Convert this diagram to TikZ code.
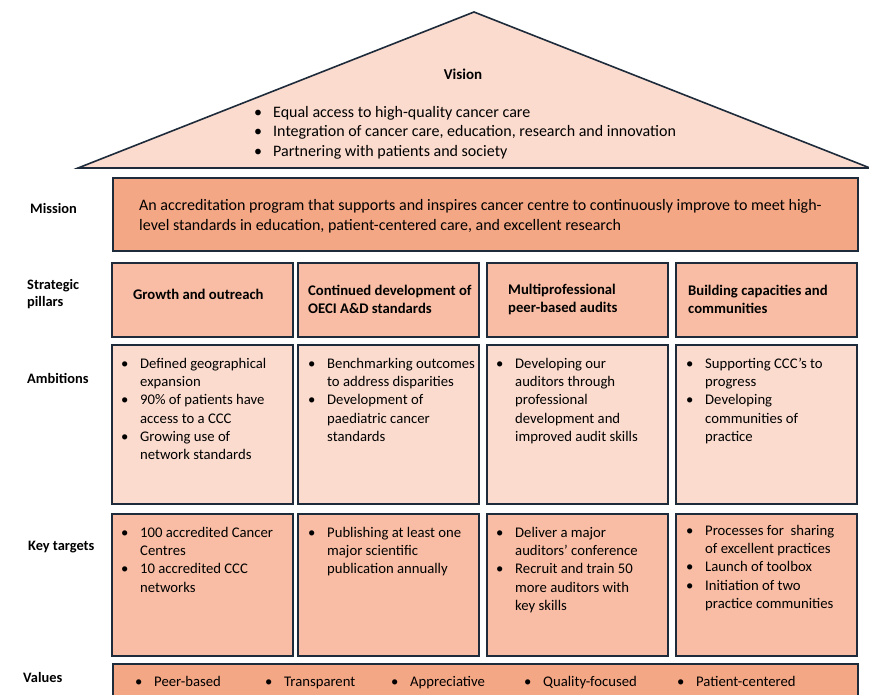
\documentclass[tikz,border=0pt]{standalone}
\usepackage{fontspec}
\setmainfont{Carlito}
\usetikzlibrary{positioning}
\definecolor{roofpink}{HTML}{FBDBCE}
\definecolor{missionorange}{HTML}{F4A785}
\definecolor{pillarorange}{HTML}{F8BDA4}
\definecolor{ambitionpink}{HTML}{FBDBCE}
\definecolor{framenavy}{HTML}{1E2B3A}
\newcommand{\bul}{\makebox[19pt][l]{•}}
\newcommand{\ind}{\hspace*{19pt}}

\tikzset{
  housebox/.style={draw=framenavy, line width=1.6pt, anchor=north west, minimum width=181pt, inner sep=0pt},
  pillarbox/.style={housebox, fill=pillarorange, minimum height=74pt},
  ambitionbox/.style={housebox, fill=ambitionpink, minimum height=159pt},
  targetbox/.style={housebox, fill=pillarorange, minimum height=142pt},
  rowlabel/.style={anchor=west, align=left, inner sep=0pt, font={\fontsize{14.4}{17}\selectfont\bfseries}},
  headtext/.style={anchor=west, align=left, inner sep=0pt, font={\fontsize{14.7}{18}\selectfont\bfseries}},
  celltext/.style={anchor=north west, align=left, inner sep=0pt, font={\fontsize{14.7}{18.2}\selectfont}},
  valtext/.style={anchor=base west, inner sep=0pt, font={\fontsize{14.7}{16}\selectfont}},
}

\begin{document}
\begin{tikzpicture}[x=1pt,y=-1pt]
\useasboundingbox (0,0) rectangle (869,694);
\fill[white] (0,0) rectangle (869,694);

% Roof with the vision
\filldraw[fill=roofpink, draw=framenavy, line width=1.6pt] (78,168) -- (474,12) -- (870,168) -- cycle;
\node[font={\fontsize{15}{16}\selectfont\bfseries}] (vision) at (463,74) {Vision};
\node[celltext, font={\fontsize{16}{19.5}\selectfont}] (visionlist) at (254,106)
  {\bul Equal access to high-quality cancer care\\
   \bul Integration of cancer care, education, research and innovation\\
   \bul Partnering with patients and society};

% Mission bar
\node[housebox, fill=missionorange, minimum width=745pt, minimum height=73pt] (mission) at (112,177) {};
\node[celltext, anchor=west, font={\fontsize{16}{20}\selectfont}] (missiontext) at ([xshift=27pt,yshift=-2pt]mission.west)
  {An accreditation program that supports and inspires cancer centre to continuously improve to meet high-\\
   level standards in education, patient-centered care, and excellent research};

% Row labels
\node[rowlabel] (lmission) at (30,208) {Mission};
\node[rowlabel] (lpillars) at (27,294) {Strategic\\pillars};
\node[rowlabel] (lambitions) at (27,378) {Ambitions};
\node[rowlabel] (ltargets) at (28,547) {Key targets};
\node[rowlabel] (lvalues) at (23,677) {Values};

% Pillar columns
\foreach \x [count=\i] in {111,297,486,675} {
    \node[pillarbox] (p\i) at (\x,262) {};
    \node[ambitionbox] (a\i) at (\x,344) {};
    \node[targetbox] (t\i) at (\x,513) {};
}

% Pillar headings
\node[headtext, anchor=center] (p1text) at ([xshift=-4pt,yshift=5pt]p1.center) {Growth and outreach};
\node[headtext] (p2text) at ([xshift=11pt]p2.west) {Continued development of\\OECI A\&D standards};
\node[headtext] (p3text) at ([xshift=22pt]p3.west) {Multiprofessional\\peer-based audits};
\node[headtext] (p4text) at ([xshift=13pt]p4.west) {Building capacities and\\communities};

% Ambitions
\node[celltext] (a1text) at ([shift={(10pt,-14pt)}]a1.north west)
  {\bul Defined geographical\\ \ind expansion\\ \bul 90\% of patients have\\ \ind access to a CCC\\ \bul Growing use of\\ \ind network standards};
\node[celltext] (a2text) at ([shift={(11pt,-14pt)}]a2.north west)
  {\bul Benchmarking outcomes\\ \ind to address disparities\\ \bul Development of\\ \ind paediatric cancer\\ \ind standards};
\node[celltext] (a3text) at ([shift={(10pt,-14pt)}]a3.north west)
  {\bul Developing our\\ \ind auditors through\\ \ind professional\\ \ind development and\\ \ind improved audit skills};
\node[celltext] (a4text) at ([shift={(11pt,-14pt)}]a4.north west)
  {\bul Supporting CCC’s to\\ \ind progress\\ \bul Developing\\ \ind communities of\\ \ind practice};

% Key targets
\node[celltext] (t1text) at ([shift={(10pt,-14pt)}]t1.north west)
  {\bul 100 accredited Cancer\\ \ind Centres\\ \bul 10 accredited CCC\\ \ind networks};
\node[celltext] (t2text) at ([shift={(11pt,-14pt)}]t2.north west)
  {\bul Publishing at least one\\ \ind major scientific\\ \ind publication annually};
\node[celltext] (t3text) at ([shift={(10pt,-14pt)}]t3.north west)
  {\bul Deliver a major\\ \ind auditors’ conference\\ \bul Recruit and train 50\\ \ind more auditors with\\ \ind key skills};
\node[celltext] (t4text) at ([shift={(11pt,-12pt)}]t4.north west)
  {\bul Processes for\ \ sharing\\ \ind of excellent practices\\ \bul Launch of toolbox\\ \bul Initiation of two\\ \ind practice communities};

% Values bar
\node[housebox, fill=missionorange, minimum width=745pt, minimum height=45pt] (values) at (112,663) {};
\foreach \x/\val [count=\i] in {135/Peer-based,265/Transparent,391/Appreciative,524/Quality-focused,677/Patient-centered}
    \node[valtext] (v\i) at (\x,686) {\bul\val};
\end{tikzpicture}
\end{document}
